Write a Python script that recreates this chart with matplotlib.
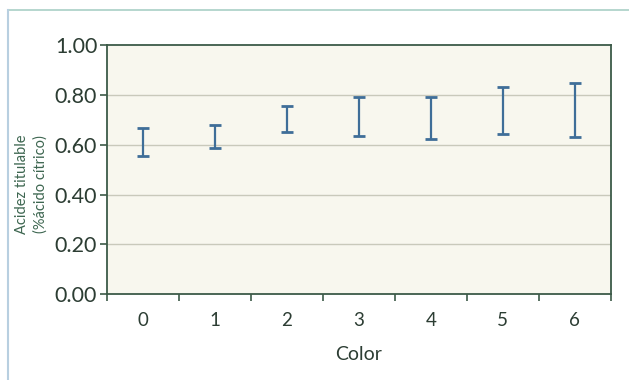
import numpy as np
import matplotlib
matplotlib.use('Agg')
import matplotlib.pyplot as plt
from matplotlib.lines import Line2D

plt.rcParams['font.family'] = ['Lato', 'DejaVu Sans']

# Data (error-bar ranges)
colores = ['0', '1', '2', '3', '4', '5', '6']
acidez_min = [0.554, 0.586, 0.651, 0.635, 0.622, 0.643, 0.631]
acidez_max = [0.667, 0.679, 0.755, 0.791, 0.791, 0.831, 0.847]
yticks = [0.0, 0.2, 0.4, 0.6, 0.8, 1.0]

text_col = '#2c3d33'
spine_col = '#3c5a48'
bar_col = '#3f6e98'

lo = np.array(acidez_min)
hi = np.array(acidez_max)
mid = (lo + hi) / 2
half = (hi - lo) / 2
x = np.arange(len(colores))

fig = plt.figure(figsize=(6.29, 3.80), dpi=100)
fig.patch.set_facecolor('white')
ax = fig.add_axes([0.170, 0.226, 0.801, 0.655])
ax.set_facecolor('#f8f7ee')

# outer frame lines (top and left)
fig.add_artist(Line2D([0.0127, 1.0], [0.974, 0.974], transform=fig.transFigure, color='#a9d0c6', lw=1.2))
fig.add_artist(Line2D([0.0127, 0.0127], [0.0, 0.974], transform=fig.transFigure, color='#b8cfe0', lw=1.5))

for v in yticks[1:-1]:
    ax.axhline(v, color='#c9c9bb', lw=1.0, zorder=1)

ax.errorbar(x, mid, yerr=half, fmt='none', ecolor=bar_col, elinewidth=1.6,
            capsize=4.5, capthick=2.0, zorder=3)

ax.set_xlim(-0.5, len(colores) - 0.5)
ax.set_ylim(0, 1.0)
ax.set_yticks(yticks)
ax.set_yticklabels(['%.2f' % v for v in yticks])
ax.set_xticks(x)
ax.set_xticklabels(colores)
ax.set_xticks(np.arange(len(colores) + 1) - 0.5, minor=True)
ax.tick_params(axis='x', which='major', length=0, pad=13, labelsize=13.5, colors=text_col)
ax.tick_params(axis='x', which='minor', length=5, width=1.2, direction='out', color=spine_col)
ax.tick_params(axis='y', length=5, width=1.2, direction='out', color=spine_col,
               labelsize=15.5, labelcolor=text_col, pad=2)

for s in ax.spines.values():
    s.set_color(spine_col)
    s.set_linewidth(1.3)

ax.set_xlabel('Color', fontsize=14, color=text_col, labelpad=12)
fig.text(0.050, 0.515, 'Acidez titulable\n(%ácido cítrico)', rotation=90, ha='center', va='center',
         fontsize=10.5, color='#3d6650', linespacing=1.45)

fig.savefig('out.png', dpi=100)
